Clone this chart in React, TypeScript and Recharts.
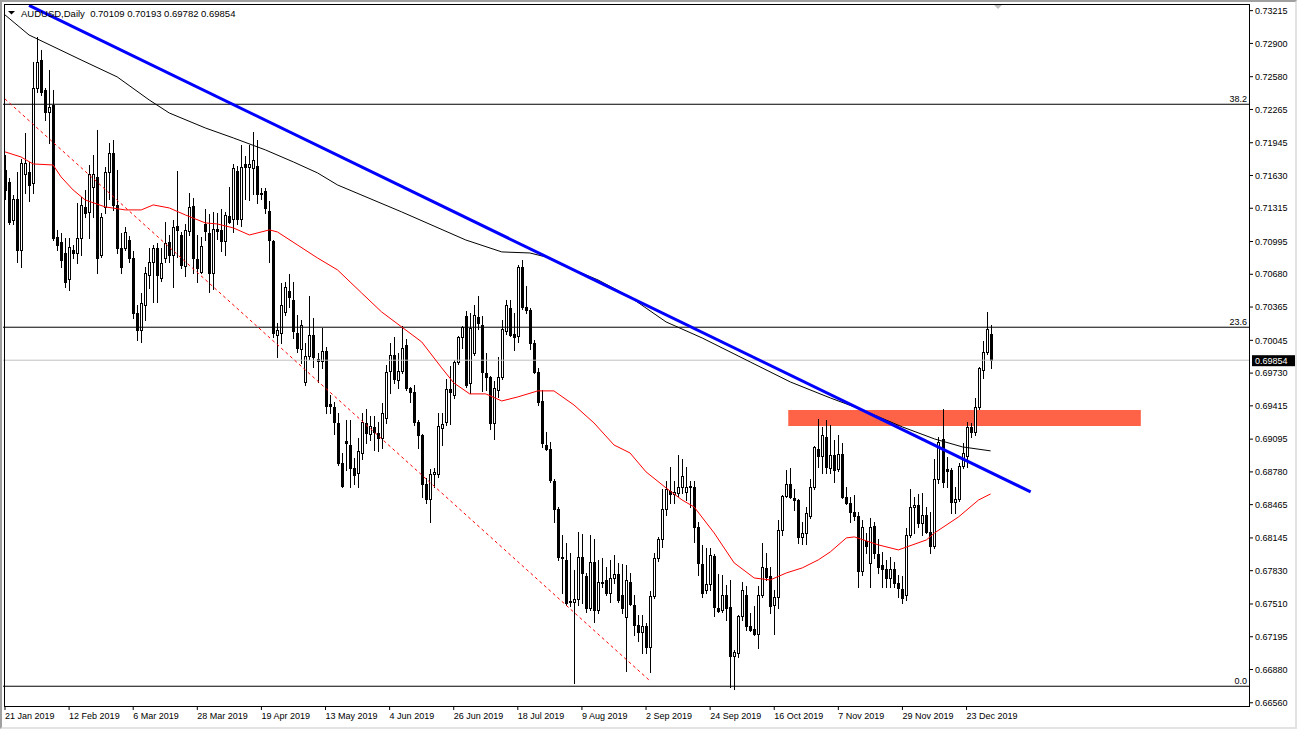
import React from 'react';
import { ComposedChart, Bar, Line, XAxis, YAxis, ReferenceLine, ReferenceArea } from 'recharts';

const FONT = "'Liberation Sans', Arial, sans-serif";

const SYMBOL = 'AUDUSD,Daily';
const SLOT_COUNT = 311; // daily bars incl. empty space to the right
const LABEL_STEP = 16;
const DATE_LABELS = [
  '21 Jan 2019', '12 Feb 2019', '6 Mar 2019', '28 Mar 2019', '19 Apr 2019', '13 May 2019',
  '4 Jun 2019', '26 Jun 2019', '18 Jul 2019', '9 Aug 2019', '2 Sep 2019', '24 Sep 2019',
  '16 Oct 2019', '7 Nov 2019', '29 Nov 2019', '23 Dec 2019',
];

const PRICE_TICKS = [
  0.73215, 0.729, 0.7258, 0.72265, 0.71945, 0.7163, 0.71315, 0.70995, 0.7068, 0.70365, 0.70045,
  0.6973, 0.69415, 0.69095, 0.6878, 0.68465, 0.68145, 0.6783, 0.6751, 0.67195, 0.6688, 0.6656,
];
const PRICE_DOMAIN = [0.66529, 0.73279];

// open, high, low, close
const CANDLES = [
  [0.7168, 0.7183, 0.714, 0.7149], [0.7157, 0.7161, 0.7116, 0.7118], [0.712, 0.7144, 0.7116, 0.714],
  [0.714, 0.7166, 0.708, 0.7091], [0.7091, 0.7179, 0.7075, 0.7175], [0.7164, 0.7204, 0.7146, 0.7175],
  [0.7166, 0.7176, 0.7138, 0.7154], [0.7156, 0.7272, 0.7146, 0.7247], [0.7247, 0.7296, 0.7243, 0.7272],
  [0.7274, 0.7284, 0.724, 0.7243], [0.7245, 0.7247, 0.7216, 0.7224], [0.7224, 0.7264, 0.7194, 0.7229],
  [0.7231, 0.7245, 0.7101, 0.7103], [0.7104, 0.7111, 0.7091, 0.7096], [0.7099, 0.7108, 0.7075, 0.7082],
  [0.7088, 0.7103, 0.7056, 0.7061], [0.7063, 0.7103, 0.7053, 0.7094], [0.7091, 0.7096, 0.7084, 0.7088],
  [0.7088, 0.7137, 0.7079, 0.7103], [0.7103, 0.7142, 0.7087, 0.7135], [0.7133, 0.7149, 0.7123, 0.7127],
  [0.7128, 0.7173, 0.7103, 0.7164], [0.7152, 0.7183, 0.7123, 0.7164], [0.7162, 0.7207, 0.7069, 0.7084],
  [0.7087, 0.7127, 0.7085, 0.7123], [0.7133, 0.7171, 0.7127, 0.7166], [0.7166, 0.7194, 0.714, 0.7185],
  [0.7185, 0.7197, 0.713, 0.7135], [0.7135, 0.7168, 0.7088, 0.7093], [0.7093, 0.7108, 0.7069, 0.7075],
  [0.7093, 0.7113, 0.7091, 0.7109], [0.7101, 0.7105, 0.708, 0.7084], [0.7084, 0.709, 0.7026, 0.7031],
  [0.7031, 0.7038, 0.7005, 0.7014], [0.7014, 0.705, 0.7003, 0.704], [0.7038, 0.7075, 0.7024, 0.7069],
  [0.7067, 0.7093, 0.7055, 0.708], [0.708, 0.7096, 0.7041, 0.7093], [0.7093, 0.7098, 0.7041, 0.7067],
  [0.7064, 0.7093, 0.7062, 0.7079], [0.7084, 0.7118, 0.708, 0.7098], [0.7099, 0.7106, 0.708, 0.7087],
  [0.7087, 0.712, 0.7056, 0.7113], [0.7114, 0.7167, 0.7085, 0.7111], [0.7106, 0.7109, 0.7074, 0.7077],
  [0.7076, 0.7116, 0.7066, 0.7111], [0.711, 0.7146, 0.7106, 0.7133], [0.7134, 0.7141, 0.7069, 0.7084],
  [0.7083, 0.7106, 0.7061, 0.7074], [0.707, 0.7104, 0.7069, 0.7095], [0.7116, 0.7131, 0.7101, 0.711],
  [0.7108, 0.7126, 0.7051, 0.7069], [0.7069, 0.7128, 0.7054, 0.7112], [0.7112, 0.7127, 0.7102, 0.711],
  [0.7111, 0.7131, 0.709, 0.71], [0.71, 0.7128, 0.7087, 0.7125], [0.7124, 0.7152, 0.7117, 0.7118],
  [0.7121, 0.7174, 0.7109, 0.717], [0.7167, 0.7172, 0.7116, 0.7121], [0.7121, 0.7192, 0.7114, 0.7171],
  [0.7174, 0.7182, 0.714, 0.7171], [0.7171, 0.7192, 0.7139, 0.7174], [0.717, 0.7205, 0.7145, 0.7178],
  [0.7172, 0.7197, 0.7137, 0.7145], [0.7146, 0.7151, 0.714, 0.7145], [0.7148, 0.7151, 0.7127, 0.7132],
  [0.7129, 0.7138, 0.708, 0.7101], [0.71, 0.7101, 0.7008, 0.7012], [0.701, 0.7021, 0.6988, 0.7014],
  [0.7012, 0.706, 0.7002, 0.7038], [0.7032, 0.7061, 0.7029, 0.7056], [0.7052, 0.7068, 0.7037, 0.7046],
  [0.7043, 0.7061, 0.7007, 0.7013], [0.7012, 0.7029, 0.6993, 0.6997], [0.6996, 0.7024, 0.6983, 0.7019],
  [0.6964, 0.7002, 0.6962, 0.6989], [0.6989, 0.7047, 0.6987, 0.701], [0.701, 0.7026, 0.6979, 0.6988],
  [0.6987, 0.6992, 0.6964, 0.6985], [0.6985, 0.7016, 0.6978, 0.6994], [0.6994, 0.6998, 0.6935, 0.6941],
  [0.6943, 0.6952, 0.6935, 0.6941], [0.694, 0.6945, 0.6914, 0.6926], [0.6925, 0.6935, 0.6885, 0.6887],
  [0.6887, 0.6896, 0.6863, 0.6864], [0.6908, 0.6928, 0.688, 0.6906], [0.6904, 0.6928, 0.6863, 0.6882],
  [0.6882, 0.6891, 0.6866, 0.6875], [0.6877, 0.6911, 0.6863, 0.6898], [0.6896, 0.6935, 0.689, 0.6926],
  [0.6925, 0.6938, 0.6906, 0.6915], [0.6914, 0.6932, 0.6909, 0.6922], [0.6921, 0.6932, 0.6899, 0.6916],
  [0.6915, 0.6926, 0.6898, 0.6911], [0.6911, 0.6944, 0.6901, 0.6935], [0.693, 0.6981, 0.6925, 0.6974],
  [0.6975, 0.7002, 0.6954, 0.699], [0.699, 0.7008, 0.6963, 0.6967], [0.6966, 0.6992, 0.6959, 0.6975],
  [0.6975, 0.7018, 0.6973, 0.6997], [0.7, 0.7006, 0.6957, 0.6959], [0.6959, 0.696, 0.6945, 0.6955],
  [0.6955, 0.6962, 0.6923, 0.6926], [0.6926, 0.6928, 0.6901, 0.6913], [0.6913, 0.6914, 0.6854, 0.6866],
  [0.6866, 0.6872, 0.6848, 0.6852], [0.6852, 0.6881, 0.683, 0.6876], [0.6876, 0.6882, 0.6863, 0.6878],
  [0.6876, 0.6935, 0.6873, 0.6922], [0.692, 0.6935, 0.6904, 0.6924], [0.6926, 0.6967, 0.6923, 0.6958],
  [0.6958, 0.698, 0.6924, 0.6955], [0.6952, 0.6986, 0.6949, 0.6984], [0.6984, 0.7009, 0.6982, 0.7008],
  [0.7008, 0.7018, 0.6997, 0.7017], [0.7028, 0.7033, 0.696, 0.6962], [0.6963, 0.7031, 0.6954, 0.7016],
  [0.6992, 0.7038, 0.699, 0.7029], [0.7027, 0.7047, 0.7015, 0.7021], [0.7019, 0.7028, 0.6956, 0.6974],
  [0.6973, 0.6992, 0.6957, 0.6969], [0.6969, 0.697, 0.6919, 0.6925], [0.6925, 0.6965, 0.691, 0.6959],
  [0.6957, 0.6988, 0.695, 0.6969], [0.6969, 0.7024, 0.6967, 0.7015], [0.7013, 0.7043, 0.7011, 0.7038],
  [0.7036, 0.7043, 0.7009, 0.701], [0.7011, 0.7031, 0.6995, 0.7008], [0.7009, 0.7077, 0.7003, 0.7075],
  [0.7075, 0.7082, 0.7035, 0.7037], [0.7037, 0.7057, 0.7031, 0.7034], [0.7034, 0.7036, 0.6996, 0.7002],
  [0.7002, 0.7005, 0.6973, 0.6974], [0.6974, 0.6978, 0.6942, 0.6945], [0.6946, 0.6957, 0.6902, 0.6906],
  [0.6904, 0.6916, 0.6899, 0.69], [0.69, 0.6907, 0.6868, 0.687], [0.6869, 0.6871, 0.683, 0.6842],
  [0.6842, 0.6844, 0.6793, 0.6796], [0.6796, 0.6817, 0.6762, 0.6795], [0.6793, 0.681, 0.675, 0.6752],
  [0.6754, 0.68, 0.6749, 0.6753], [0.6753, 0.6784, 0.6675, 0.6756], [0.6756, 0.682, 0.675, 0.6796],
  [0.6796, 0.6818, 0.6752, 0.6781], [0.6778, 0.6781, 0.6743, 0.6747], [0.6747, 0.6817, 0.6745, 0.6791],
  [0.6791, 0.6813, 0.6734, 0.6745], [0.6745, 0.6793, 0.6742, 0.6772], [0.6772, 0.6795, 0.6767, 0.6771],
  [0.6774, 0.6787, 0.676, 0.6762], [0.6762, 0.6793, 0.6753, 0.6776], [0.6776, 0.6798, 0.6771, 0.678],
  [0.678, 0.679, 0.6753, 0.6755], [0.676, 0.6789, 0.6742, 0.6747], [0.6738, 0.6788, 0.6687, 0.6774],
  [0.6772, 0.6781, 0.675, 0.6751], [0.675, 0.676, 0.6721, 0.6731], [0.6731, 0.674, 0.6715, 0.6724],
  [0.6724, 0.674, 0.6704, 0.673], [0.673, 0.6733, 0.6704, 0.671], [0.671, 0.6763, 0.6686, 0.6759],
  [0.6759, 0.68, 0.6757, 0.6795], [0.6795, 0.6815, 0.6792, 0.6813], [0.6813, 0.6862, 0.6806, 0.6842],
  [0.6842, 0.6869, 0.6837, 0.6862], [0.686, 0.6883, 0.6848, 0.6857], [0.6857, 0.6869, 0.6848, 0.6859],
  [0.6858, 0.6894, 0.6855, 0.6863], [0.6863, 0.689, 0.6858, 0.6874], [0.6859, 0.6883, 0.6851, 0.6863],
  [0.6864, 0.6869, 0.6844, 0.6863], [0.6863, 0.6869, 0.6811, 0.6825], [0.6825, 0.683, 0.6779, 0.679],
  [0.6789, 0.6808, 0.6758, 0.6762], [0.6764, 0.6805, 0.6762, 0.677], [0.677, 0.6805, 0.6764, 0.6798],
  [0.6797, 0.6799, 0.6739, 0.6748], [0.6747, 0.678, 0.6743, 0.6744], [0.6745, 0.6779, 0.6743, 0.676],
  [0.676, 0.6769, 0.6736, 0.6747], [0.6748, 0.6774, 0.6671, 0.6701], [0.6701, 0.6707, 0.6669, 0.6705],
  [0.6704, 0.674, 0.67, 0.6739], [0.6739, 0.6772, 0.6736, 0.6764], [0.676, 0.6768, 0.6726, 0.673],
  [0.673, 0.6742, 0.6725, 0.6726], [0.6727, 0.6749, 0.6721, 0.6722], [0.6722, 0.6768, 0.6709, 0.676],
  [0.676, 0.681, 0.6758, 0.6787], [0.6786, 0.68, 0.6774, 0.6777], [0.6778, 0.6787, 0.6742, 0.6749],
  [0.675, 0.6764, 0.6722, 0.6758], [0.6758, 0.6832, 0.6747, 0.6822], [0.6822, 0.6856, 0.6817, 0.6855],
  [0.6855, 0.688, 0.6854, 0.6866], [0.6866, 0.6882, 0.6853, 0.6854], [0.6853, 0.6862, 0.6841, 0.6851],
  [0.6851, 0.6852, 0.681, 0.6815], [0.6815, 0.683, 0.6809, 0.6819], [0.6819, 0.6844, 0.6809, 0.6838],
  [0.6836, 0.6871, 0.6834, 0.6863], [0.6863, 0.6903, 0.6862, 0.6902], [0.69, 0.6929, 0.6883, 0.6893],
  [0.6893, 0.6921, 0.6877, 0.6913], [0.6912, 0.6928, 0.6877, 0.6883], [0.6882, 0.6923, 0.6877, 0.6894],
  [0.6894, 0.6909, 0.6868, 0.688], [0.6881, 0.6913, 0.6879, 0.6895], [0.6895, 0.6906, 0.6853, 0.6854],
  [0.6854, 0.6863, 0.6847, 0.6848], [0.6848, 0.6854, 0.683, 0.6839], [0.6839, 0.6856, 0.6832, 0.6836],
  [0.6836, 0.6839, 0.6767, 0.6783], [0.6783, 0.6832, 0.6779, 0.6825], [0.6812, 0.6819, 0.68, 0.6807],
  [0.679, 0.6834, 0.6767, 0.6825], [0.6826, 0.683, 0.6795, 0.68], [0.6799, 0.6813, 0.6781, 0.6787],
  [0.6788, 0.6801, 0.6767, 0.6785], [0.6785, 0.6793, 0.6767, 0.6776], [0.6776, 0.6796, 0.6767, 0.6785],
  [0.6785, 0.6791, 0.6767, 0.6771], [0.6771, 0.6779, 0.6758, 0.6766], [0.6765, 0.6778, 0.6752, 0.6757],
  [0.676, 0.6824, 0.6755, 0.6817], [0.6817, 0.6862, 0.6815, 0.6844], [0.6844, 0.6854, 0.6819, 0.6846],
  [0.6846, 0.6857, 0.6825, 0.6829], [0.6829, 0.6858, 0.6817, 0.6837], [0.6837, 0.6844, 0.6819, 0.682],
  [0.682, 0.6839, 0.68, 0.6807], [0.6807, 0.689, 0.6805, 0.6871], [0.6871, 0.6912, 0.6867, 0.6907],
  [0.691, 0.6938, 0.6863, 0.6868], [0.6881, 0.6892, 0.6863, 0.6879], [0.688, 0.6882, 0.6838, 0.6849],
  [0.6849, 0.6863, 0.6838, 0.6852], [0.6852, 0.6887, 0.685, 0.6884], [0.6884, 0.6906, 0.6882, 0.6896],
  [0.6893, 0.6926, 0.6883, 0.6921], [0.6921, 0.6925, 0.6912, 0.6916], [0.6916, 0.6949, 0.6913, 0.694],
  [0.694, 0.6979, 0.6938, 0.6978], [0.6976, 0.7004, 0.6968, 0.6993], [0.6993, 0.7032, 0.6991, 0.7015],
  [0.70109, 0.70193, 0.69782, 0.69854],
];

// moving averages read at bar indexes
const MA_SLOW: [number, number][] = [
  [0, 0.73174], [6, 0.72981], [19, 0.72741], [28, 0.72578], [36, 0.72356], [41, 0.72231],
  [50, 0.72087], [57, 0.71991], [65, 0.71876], [72, 0.7176], [78, 0.71655], [83, 0.71539],
  [99, 0.7128], [115, 0.7101], [124, 0.70895], [131, 0.70885], [135, 0.70847], [139, 0.7077],
  [148, 0.70626], [156, 0.70462], [165, 0.70222], [174, 0.70068], [186, 0.69837], [196, 0.69645],
  [206, 0.69491], [214, 0.69376], [224, 0.69212], [232, 0.69097], [239, 0.6902], [246, 0.68982],
];
const MA_FAST: [number, number][] = [
  [0, 0.71857], [4, 0.71808], [7, 0.71741], [12, 0.71731], [14, 0.71616], [17, 0.71491],
  [20, 0.71395], [25, 0.71328], [30, 0.71299], [34, 0.71299], [37, 0.71347], [41, 0.71318],
  [45, 0.71251], [50, 0.71174], [53, 0.71164], [57, 0.71126], [61, 0.71058], [66, 0.71107],
  [68, 0.71087], [73, 0.70962], [78, 0.70837], [83, 0.70722], [89, 0.70501], [94, 0.70318],
  [99, 0.70174], [104, 0.7003], [109, 0.6978], [112, 0.69636], [116, 0.6953], [120, 0.6953],
  [124, 0.69462], [128, 0.69501], [133, 0.69559], [137, 0.69559], [142, 0.69424], [147, 0.69251],
  [152, 0.69039], [156, 0.68962], [160, 0.6878], [165, 0.68626], [169, 0.6851], [172, 0.68443],
  [177, 0.68193], [182, 0.67905], [187, 0.6776], [191, 0.67741], [195, 0.67808], [199, 0.67857],
  [203, 0.67934], [206, 0.68011], [210, 0.68145], [212, 0.68155], [218, 0.68078], [223, 0.6803],
  [230, 0.68126], [232, 0.68193], [238, 0.68347], [243, 0.6851], [246, 0.68568],
];

const FIB_LEVELS = [
  { name: '38.2', price: 0.72315 },
  { name: '23.6', price: 0.70171 },
  { name: '0.0', price: 0.66719 },
];
const BID = 0.69854;
const ZONE = { from: 196, to: 283, low: 0.69222, high: 0.69376 };
const TRENDLINE = [{ x: 6, y: 0.73265 }, { x: 256, y: 0.68588 }];
const CHANNEL_LINE = [{ x: 0, y: 0.72366 }, { x: 161, y: 0.6677 }];

const slowMap = new Map(MA_SLOW);
const fastMap = new Map(MA_FAST);

const data = Array.from({ length: SLOT_COUNT }, (_, i) => {
  const c = CANDLES[i];
  return {
    i,
    ohlc: c ?? null,
    range: c ? [c[2], c[1]] : null,
    slow: slowMap.get(i) ?? null,
    fast: fastMap.get(i) ?? null,
  };
});

const last = CANDLES[CANDLES.length - 1];
const title = `${SYMBOL}  ${last.map((v) => v.toFixed(5)).join(' ')}`;

function Candle(props: any) {
  const { x, y, width, height, payload } = props;
  if (!payload || !payload.ohlc) return null;
  const [o, h, l, c] = payload.ohlc;
  const top0 = Math.min(y, y + height);
  const span = Math.abs(height);
  const cx = Math.round(x + width / 2);
  const range = h - l || 1;
  const py = (v: number) => top0 + ((h - v) / range) * span;
  const bodyTop = Math.round(py(Math.max(o, c)));
  const bodyBot = Math.round(py(Math.min(o, c)));
  const bull = c >= o;
  return (
    <g>
      <line x1={cx + 0.5} x2={cx + 0.5} y1={Math.round(top0)} y2={Math.round(top0 + span) + 1} stroke="#000" strokeWidth={1} />
      <rect
        x={cx - 0.5}
        y={bodyTop + 0.5}
        width={2}
        height={Math.max(bodyBot - bodyTop, 0)}
        fill={bull ? '#fff' : '#000'}
        stroke="#000"
        strokeWidth={1}
      />
    </g>
  );
}

function DateTick({ x, y, payload }: any) {
  const label = DATE_LABELS[Math.round(payload.value / LABEL_STEP)];
  return (
    <text x={x} y={y + 7} fontSize={9} fontFamily={FONT} fill="#000" textAnchor="start">
      {label}
    </text>
  );
}

function FibTag({ viewBox, text }: any) {
  if (!viewBox) return null;
  return (
    <text x={viewBox.x + viewBox.width - 2} y={viewBox.y - 2.5} fontSize={9} fontFamily={FONT} fill="#000" textAnchor="end">
      {text}
    </text>
  );
}

function BidTag({ viewBox, value }: any) {
  if (!viewBox) return null;
  const right = viewBox.x + viewBox.width;
  return (
    <g>
      <rect x={right + 3} y={viewBox.y - 5} width={45} height={11} fill="#000" />
      <text x={right + 6} y={viewBox.y + 3.5} fontSize={9} fontFamily={FONT} fill="#fff">
        {value.toFixed(5)}
      </text>
    </g>
  );
}

export default function App() {
  return (
    <div style={{ position: 'fixed', left: 0, top: 0, width: 1297, height: 729, background: '#fff', overflow: 'hidden' }}>
      <ComposedChart
        width={1297}
        height={729}
        data={data}
        margin={{ top: 4, right: 0, bottom: 0, left: 3 }}
        barCategoryGap={0}
      >
        <XAxis
          dataKey="i"
          type="category"
          ticks={DATE_LABELS.map((_, k) => k * LABEL_STEP)}
          interval={0}
          height={23}
          axisLine={false}
          tickLine={{ stroke: '#000' }}
          tickSize={4}
          tick={<DateTick />}
        />
        <YAxis
          orientation="right"
          type="number"
          domain={PRICE_DOMAIN}
          allowDataOverflow
          ticks={PRICE_TICKS}
          interval={0}
          width={48}
          axisLine={false}
          tickLine={{ stroke: '#000' }}
          tickSize={4}
          tickFormatter={(v: number) => v.toFixed(5)}
          tick={{ fontSize: 9, fill: '#000', fontFamily: FONT }}
        />
        <ReferenceArea
          x1={ZONE.from}
          x2={ZONE.to}
          y1={ZONE.low}
          y2={ZONE.high}
          fill="#ff6347"
          fillOpacity={1}
          stroke="none"
        />
        {FIB_LEVELS.map((f) => (
          <ReferenceLine key={f.name} y={f.price} stroke="#000" strokeWidth={1} label={<FibTag text={f.name} />} />
        ))}
        <ReferenceLine y={BID} stroke="#c0c0c0" strokeWidth={1} label={<BidTag value={BID} />} />
        <ReferenceLine segment={CHANNEL_LINE} stroke="#ff0000" strokeWidth={1} strokeDasharray="3 3" />
        <Bar dataKey="range" isAnimationActive={false} shape={(p: any) => <Candle {...p} />} />
        <Line
          dataKey="slow"
          type="linear"
          stroke="#000"
          strokeWidth={1}
          dot={false}
          connectNulls
          isAnimationActive={false}
        />
        <Line
          dataKey="fast"
          type="linear"
          stroke="#ff0000"
          strokeWidth={1}
          dot={false}
          connectNulls
          isAnimationActive={false}
        />
        <ReferenceLine segment={TRENDLINE} stroke="#0000ff" strokeWidth={3} />
      </ComposedChart>

      {/* plot frame */}
      <div
        style={{
          position: 'absolute', left: 4, top: 4, width: 1246, height: 703,
          border: '1px solid #000', boxSizing: 'border-box', pointerEvents: 'none',
        }}
      />
      {/* window frame */}
      <div
        style={{
          position: 'absolute', left: 0, top: 0, width: 1297, height: 729, boxSizing: 'border-box',
          borderLeft: '2px solid #a0a0a0', borderTop: '2px solid #a0a0a0',
          borderRight: '2px solid #e3e3e3', borderBottom: '2px solid #e3e3e3', pointerEvents: 'none',
        }}
      />
      <svg style={{ position: 'absolute', left: 0, top: 0 }} width={1297} height={20} pointerEvents="none">
        <polygon points="8,11 15,11 11.5,14.5" fill="#000" />
        <polygon points="994,5 1002,5 998,9" fill="#c0c0c0" />
      </svg>
      <div
        style={{
          position: 'absolute', left: 21, top: 8, fontFamily: FONT, fontSize: 9.5,
          lineHeight: '11px', color: '#000', whiteSpace: 'pre',
        }}
      >
        {title}
      </div>
    </div>
  );
}
